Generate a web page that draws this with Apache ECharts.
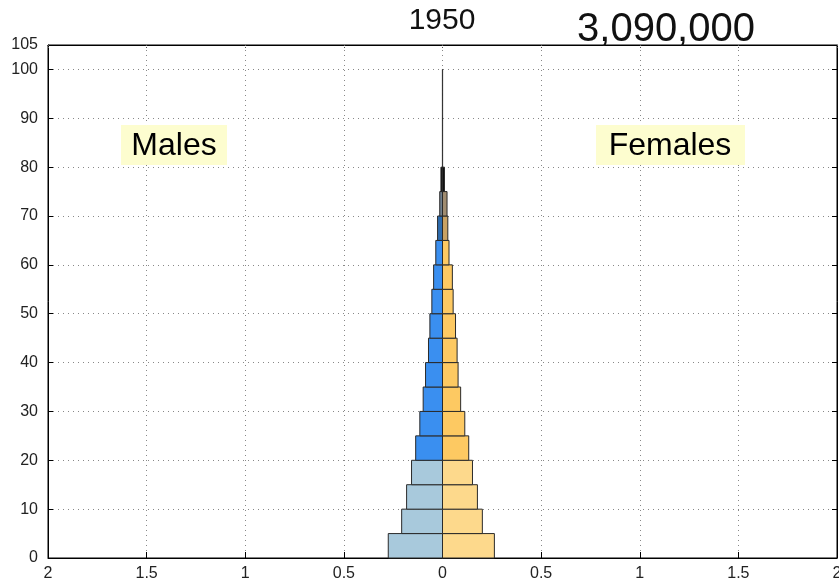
<!DOCTYPE html>
<html>
<head>
<meta charset="utf-8">
<style>
  html, body { margin: 0; padding: 0; background: #fff; }
  #chart { width: 839px; height: 584px; }
</style>
<script src="https://cdn.jsdelivr.net/npm/echarts@6/dist/echarts.min.js"></script>
</head>
<body>
<div id="chart"></div>
<script>
// ---- data (millions of people, 5-year age groups) ----
const ageStarts = [0, 5, 10, 15, 20, 25, 30, 35, 40, 45, 50, 55, 60, 65, 70, 75, 80, 85, 90, 95];
const males   = [0.275, 0.207, 0.182, 0.157, 0.136, 0.115, 0.098, 0.086, 0.071, 0.064, 0.054, 0.045, 0.034, 0.025, 0.014, 0.008, 0.001, 0.001, 0.001, 0.001];
const females = [0.263, 0.202, 0.177, 0.152, 0.133, 0.113, 0.092, 0.079, 0.074, 0.066, 0.054, 0.050, 0.033, 0.027, 0.023, 0.010, 0.001, 0.001, 0.001, 0.001];
const yearLabel = '1950';
const totalLabel = '3,090,000';
const xTicks = [-2, -1.5, -1, -0.5, 0, 0.5, 1, 1.5, 2];
const yTicks = [0, 10, 20, 30, 40, 50, 60, 70, 80, 90, 100, 105];
const binWidth = 5;

// ---- styles ----
function barColor(age, side) {
  if (age >= 75) return '#111111';
  if (side === 'm') {
    if (age < 20) return '#a8c9dc';
    if (age < 65) return '#3a8ff0';
    if (age < 70) return '#2e6cae';
    return '#6f7e8c';
  } else {
    if (age < 20) return '#fdd98c';
    if (age < 65) return '#fdc962';
    if (age < 70) return '#c9a263';
    return '#a08c70';
  }
}

const barData = [];
ageStarts.forEach((a, i) => {
  barData.push([0, -males[i], a, a + binWidth, 0]);
  barData.push([0, females[i], a, a + binWidth, 1]);
});

const chart = echarts.init(document.getElementById('chart'), null, { renderer: 'canvas' });

const fontFam = '"Liberation Sans", Arial, sans-serif';

const option = {
  animation: false,
  backgroundColor: '#ffffff',
  grid: {
    left: 48, right: 2, top: 45, bottom: 26,
    containLabel: false, outerBoundsMode: 'none',
    show: true, borderColor: '#000', borderWidth: 1, backgroundColor: 'transparent'
  },
  xAxis: [{
    type: 'value', min: xTicks[0], max: xTicks[xTicks.length - 1], interval: 0.5,
    position: 'bottom',
    axisLine: { show: true, onZero: false, lineStyle: { color: '#000', width: 1 } },
    axisTick: { show: true, inside: true, length: 6, lineStyle: { color: '#000' } },
    axisLabel: {
      show: true, margin: 8, color: '#222', fontSize: 16, fontFamily: fontFam,
      showMinLabel: true, showMaxLabel: true,
      formatter: v => String(Math.abs(v))
    },
    splitLine: { show: true, lineStyle: { color: '#888', width: 1, type: [1, 4] } }
  }, {
    type: 'value', min: xTicks[0], max: xTicks[xTicks.length - 1], interval: 0.5,
    position: 'top',
    axisLine: { show: true, onZero: false, lineStyle: { color: '#000', width: 1 } },
    axisTick: { show: true, inside: true, length: 4, lineStyle: { color: '#555', type: [1, 1] } },
    axisLabel: { show: false },
    splitLine: { show: false }
  }],
  yAxis: [{
    type: 'value', min: yTicks[0], max: yTicks[yTicks.length - 1], interval: 10,
    position: 'left',
    axisLine: { show: true, onZero: false, lineStyle: { color: '#000', width: 1 } },
    axisTick: { show: true, inside: true, length: 5, lineStyle: { color: '#000' } },
    axisLabel: {
      show: true, margin: 10, color: '#222', fontSize: 16, fontFamily: fontFam,
      showMinLabel: true, showMaxLabel: true
    },
    splitLine: { show: true, lineStyle: { color: '#888', width: 1, type: [1, 4] } }
  }, {
    type: 'value', min: yTicks[0], max: yTicks[yTicks.length - 1], interval: 10,
    position: 'right',
    axisLine: { show: true, onZero: false, lineStyle: { color: '#000', width: 1 } },
    axisTick: { show: true, inside: true, length: 5, lineStyle: { color: '#000' } },
    axisLabel: { show: false },
    splitLine: { show: false }
  }],
  series: [{
    type: 'custom',
    xAxisIndex: 0, yAxisIndex: 0,
    data: barData,
    encode: { x: [0, 1], y: [2, 3] },
    renderItem: function (params, api) {
      const x0 = api.value(0), x1 = api.value(1);
      const y0 = api.value(2), y1 = api.value(3);
      const side = api.value(4) === 0 ? 'm' : 'f';
      const p0 = api.coord([x0, y0]);
      const p1 = api.coord([x1, y1]);
      const thin = y0 >= 80;
      return {
        type: 'rect',
        shape: {
          x: Math.min(p0[0], p1[0]),
          y: Math.min(p0[1], p1[1]),
          width: Math.abs(p1[0] - p0[0]),
          height: Math.abs(p1[1] - p0[1])
        },
        style: {
          fill: barColor(y0, side),
          stroke: thin ? '#333' : '#2a2a2a',
          lineWidth: thin ? 0.6 : 1
        }
      };
    }
  }],
  graphic: [
    { type: 'rect', left: 121, top: 125, shape: { width: 106, height: 40 }, style: { fill: '#fdfdcf' }, z: 10 },
    { type: 'text', x: 174, y: 146, style: { text: 'Males', font: '32px ' + fontFam, fill: '#000', textAlign: 'center', textVerticalAlign: 'middle' }, z: 11 },
    { type: 'rect', left: 596, top: 125, shape: { width: 149, height: 40 }, style: { fill: '#fdfdcf' }, z: 10 },
    { type: 'text', x: 670, y: 146, style: { text: 'Females', font: '32px ' + fontFam, fill: '#000', textAlign: 'center', textVerticalAlign: 'middle' }, z: 11 },
    { type: 'text', x: 442, y: 21, style: { text: yearLabel, font: '30px ' + fontFam, fill: '#111', textAlign: 'center', textVerticalAlign: 'middle' }, z: 11 },
    { type: 'text', x: 666, y: 30, style: { text: totalLabel, font: '40px ' + fontFam, fill: '#111', textAlign: 'center', textVerticalAlign: 'middle' }, z: 11 }
  ]
};

chart.setOption(option);
</script>
</body>
</html>
